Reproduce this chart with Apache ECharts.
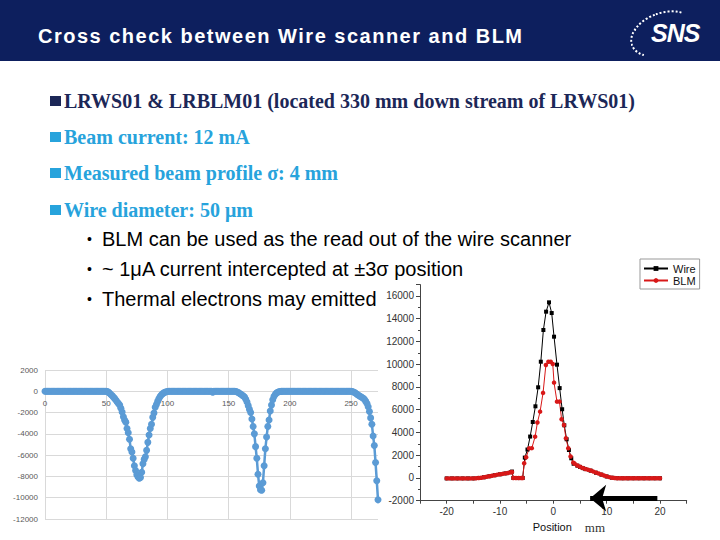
<!DOCTYPE html>
<html><head><meta charset="utf-8">
<script src="https://cdn.jsdelivr.net/npm/echarts@6/dist/echarts.min.js"></script>
<style>
html,body{margin:0;padding:0;background:#fff;}
#slide{position:relative;width:720px;height:540px;overflow:hidden;background:#fff;}
#chart{position:absolute;left:0;top:0;width:720px;height:540px;}
.hdr{position:absolute;left:0;top:0;width:720px;height:61px;background:#0d1f5e;}
.title{position:absolute;left:38px;top:26px;font:bold 20px 'Liberation Sans',Arial,sans-serif;line-height:20px;color:#fff;letter-spacing:1.5px;white-space:nowrap;}
.arc{position:absolute;left:629px;top:12px;width:64px;height:40px;border-radius:50%;border:2px dotted #fff;border-right-color:transparent;border-bottom-color:transparent;transform:rotate(-20deg);}
.sns{position:absolute;left:651px;top:21px;font:italic bold 25px 'Liberation Sans',Arial,sans-serif;line-height:25px;color:#fff;letter-spacing:-1px;}
.sq{position:absolute;left:50px;width:11px;height:10px;}
.b1{position:absolute;left:64px;font:bold 20px 'Liberation Serif','Times New Roman',serif;line-height:20px;white-space:nowrap;}
.dot{position:absolute;left:87px;font:14px 'Liberation Sans',Arial,sans-serif;line-height:20px;color:#000;}
.b2{position:absolute;left:102px;font:20px 'Liberation Sans',Arial,sans-serif;line-height:20px;white-space:nowrap;color:#000;}
</style></head>
<body>
<div id="slide">
  <div id="chart"></div>
  <div class="hdr"></div>
  <div class="title">Cross check between Wire scanner and BLM</div>
  <div class="arc"></div>
  <div class="sns">SNS</div>

  <div class="sq" style="top:96px;background:#1c2757"></div>
  <div class="b1" style="top:91px;color:#1c2757">LRWS01 &amp; LRBLM01 (located 330 mm down stream of LRWS01)</div>
  <div class="sq" style="top:132px;background:#27a3dc"></div>
  <div class="b1" style="top:127px;color:#27a3dc">Beam current: 12 mA</div>
  <div class="sq" style="top:168px;background:#27a3dc"></div>
  <div class="b1" style="top:163px;color:#27a3dc">Measured beam profile σ: 4 mm</div>
  <div class="sq" style="top:205px;background:#27a3dc"></div>
  <div class="b1" style="top:200px;color:#27a3dc">Wire diameter: 50 μm</div>

  <div class="dot" style="top:229px">•</div>
  <div class="b2" style="top:229px">BLM can be used as the read out of the wire scanner</div>
  <div class="dot" style="top:259px">•</div>
  <div class="b2" style="top:259px">~ 1μA current intercepted at ±3σ position</div>
  <div class="dot" style="top:289px">•</div>
  <div class="b2" style="top:289px">Thermal electrons may emitted</div>
</div>
<script>
// ---- Left chart: raw wire scanner signal vs sample index ----
const leftY = [
  0,0,0,0,0,0,0,0,0,0,
  0,0,0,0,0,0,0,0,0,0,
  0,0,0,0,0,0,0,0,0,0,
  0,0,0,0,0,0,0,0,0,0,
  0,0,0,0,0,0,0,0,0,0,
  0,-30,-100,-200,-320,-430,-560,-690,-850,-1000,
  -1150,-1300,-1600,-1950,-2400,-2700,-2900,-3500,-3900,-4500,
  -5400,-5700,-6300,-7000,-7450,-7850,-8050,-8170,-8100,-7600,
  -6800,-6400,-6150,-5550,-4800,-4100,-3500,-3100,-2450,-2050,
  -1500,-1250,-950,-700,-500,-350,-240,-150,-90,-50,
  -20,0,0,0,0,0,0,0,0,0,
  0,0,0,0,0,0,0,0,0,0,
  0,0,0,0,0,0,0,0,0,0,
  0,0,0,0,0,0,0,-80,0,0,
  0,0,0,0,0,0,0,0,0,0,
  0,0,0,0,0,0,-20,-60,-120,-200,
  -280,-360,-440,-530,-750,-1000,-1350,-1700,-2000,-2600,
  -3300,-4000,-5200,-6300,-7800,-8900,-9250,-9300,-8600,-7000,
  -5400,-4300,-3300,-2700,-1850,-1300,-800,-500,-300,-160,
  -90,-50,-25,-10,0,0,0,0,0,0,
  0,0,0,0,0,0,0,0,0,0,
  0,0,0,0,0,0,0,0,0,0,
  0,0,0,0,0,0,0,0,0,0,
  0,0,0,0,0,0,0,0,0,0,
  0,0,0,0,0,0,0,0,0,0,
  0,-20,-60,-120,-200,-290,-380,-450,-520,-580,
  -650,-780,-950,-1150,-1450,-1900,-2500,-3100,-4200,-5100,
  -6700,-8400,-10200
];
const leftXTicks = { min: 0, max: 272, interval: 50 };
const leftYTicks = { min: -12000, max: 2000, interval: 2000 };

// ---- Right chart: profile vs position (mm) ----
const wireX = [-20,-19,-18,-17,-16,-15,-14,-13,-12,-11,-10,-9,-8,-7.75,-7.5,-6.5,-5.75,
  -5.35,-4.85,-4.35,-3.86,-3.36,-2.85,-2.35,-1.87,-1.36,-0.81,-0.31,0.13,0.68,1.18,1.65,2.05,2.49,2.92,3.36,3.8,
  4.5,5,5.5,6,7,8,9,10,11,12,13,14,15,16,17,18,19,20];
const wireY = [-40,-40,-40,-40,-40,-40,0,60,150,240,320,400,500,560,0,-10,0,
  1790,2500,3640,4920,6300,7970,10220,13010,14620,15440,14500,12420,9960,7900,6040,4630,3400,2460,1730,1250,
  1080,970,870,780,640,460,290,130,20,-20,-30,-30,-30,-30,-30,-30,-30,-30];
const blmX = [-20,-19.5,-19,-18.5,-18,-17.5,-17,-16.5,-16,-15.5,-15,-14.5,-14,-13.5,-13,-12.5,-12,-11.5,-11,-10.5,-10,-9.5,-9,-8.5,-8,-7.75,-7.5,-7,-6.5,-6,-5.75,
  -5.47,-5.1,-4.54,-4.04,-3.42,-2.99,-2.49,-1.93,-1.4,-0.93,-0.49,-0.11,0.13,0.68,1.15,1.55,1.99,2.36,2.8,3.23,3.73,
  4,4.5,5,5.5,6,6.5,7,7.5,8,8.5,9,9.5,10,10.5,11,11.5,12,12.5,13,13.5,14,14.5,15,15.5,16,16.5,17,17.5,18,18.5,19,19.5,20];
const blmY = [-40,-40,-40,-40,-40,-40,-40,-40,-40,-40,-40,-20,0,20,60,100,150,200,240,290,320,360,400,440,500,520,0,-10,-10,-10,0,
  1290,1820,2600,2620,3630,4870,5830,7480,9930,10220,10220,10020,8380,6710,6710,5160,4660,3490,2610,1880,1350,
  1250,1100,980,880,790,720,650,560,470,390,300,220,140,70,20,0,-20,-30,-30,-30,-30,-30,-30,-30,-30,-30,-30,-30,-30,-30,-30,-30,-30];
const rightXTicks = { min: -25, max: 25, interval: 5 };
const rightYTicks = { min: -2000, max: 17000, interval: 2000 };
const legendNames = ['Wire', 'BLM'];
const arrowFrom = [19.5, -1780];
const arrowTo = [6.9, -1780];

const zip = (xs, ys) => xs.map((x, i) => [x, ys[i]]);
const leftData = leftY.map((v, i) => [i, v]);

const chart = echarts.init(document.getElementById('chart'), null, { renderer: 'svg' });
const sans = "'Liberation Sans', Arial, sans-serif";
chart.setOption({
  animation: false,
  backgroundColor: 'transparent',
  textStyle: { fontFamily: sans },
  grid: [
    { left: 45, top: 370, width: 333, height: 149, outerBoundsMode: 'none', containLabel: false },
    { left: 420, top: 284.6, width: 266.7, height: 216.1, outerBoundsMode: 'none', containLabel: false },
    // label strip for the left chart: spans leftY 0..2000 so its bottom edge sits on the zero line
    { left: 45, top: 370, width: 333, height: 21.3, outerBoundsMode: 'none', containLabel: false }
  ],
  legend: {
    data: legendNames,
    orient: 'vertical',
    left: 640, top: 259,
    itemWidth: 24, itemHeight: 6, itemGap: 1,
    padding: [4, 4, 3, 3],
    borderColor: '#999', borderWidth: 1,
    textStyle: { fontSize: 11, color: '#111', lineHeight: 11, fontFamily: sans },
    selectedMode: false
  },
  xAxis: [
    {
      gridIndex: 0, type: 'value', min: leftXTicks.min, max: leftXTicks.max, interval: leftXTicks.interval,
      axisLine: { show: false },
      axisTick: { show: false },
      axisLabel: { show: false },
      splitLine: { show: true, showMaxLine: false, lineStyle: { color: '#d9d9d9', width: 1 } }
    },
    {
      gridIndex: 1, type: 'value', min: rightXTicks.min, max: rightXTicks.max, interval: rightXTicks.interval,
      axisLine: { show: true, onZero: false, lineStyle: { color: '#444', width: 1 } },
      axisTick: { show: true, inside: false, length: 3, lineStyle: { color: '#444' } },
      axisLabel: { fontSize: 10, color: '#333', margin: 6, fontFamily: sans,
        formatter: v => (v % 10 === 0 && Math.abs(v) <= 20) ? String(v) : '' },
      splitLine: { show: false },
      name: '{p|Position}{s|}{m|mm}', nameLocation: 'middle', nameGap: 20,
      nameTextStyle: {
        padding: [0, 0, 0, 31],
        rich: {
          p: { fontSize: 11, color: '#111', fontFamily: sans },
          s: { width: 13 },
          m: { fontSize: 13, color: '#333', fontFamily: "'Liberation Serif', 'Times New Roman', serif" }
        }
      }
    },
    {
      gridIndex: 2, type: 'value', position: 'bottom', min: leftXTicks.min, max: leftXTicks.max, interval: leftXTicks.interval,
      axisLine: { show: false },
      axisTick: { show: false },
      axisLabel: { fontSize: 8, color: '#595959', margin: 8, showMaxLabel: false, fontFamily: sans },
      splitLine: { show: false }
    }
  ],
  yAxis: [
    {
      gridIndex: 0, type: 'value', min: leftYTicks.min, max: leftYTicks.max, interval: leftYTicks.interval,
      axisLine: { show: false },
      axisTick: { show: false },
      axisLabel: { fontSize: 8, color: '#595959', margin: 7, fontFamily: sans, formatter: v => String(v) },
      splitLine: { show: true, lineStyle: { color: '#d9d9d9', width: 1 } }
    },
    {
      gridIndex: 1, type: 'value', min: rightYTicks.min, max: rightYTicks.max, interval: rightYTicks.interval,
      axisLine: { show: true, onZero: false, lineStyle: { color: '#444', width: 1 } },
      axisTick: { show: true, inside: false, length: 4, lineStyle: { color: '#444' } },
      minorTick: { show: true, splitNumber: 2, length: 2, lineStyle: { color: '#444' } },
      axisLabel: { fontSize: 10, color: '#333', margin: 6, showMaxLabel: false, fontFamily: sans, formatter: v => String(v) },
      splitLine: { show: false }
    },
    {
      gridIndex: 2, type: 'value', min: 0, max: leftYTicks.max, show: false
    }
  ],
  series: [
    {
      name: 'scan', type: 'line', xAxisIndex: 0, yAxisIndex: 0, data: leftData,
      showAllSymbol: true, symbol: 'circle', symbolSize: 7,
      itemStyle: { color: '#5b9bd5' }, lineStyle: { color: '#5b9bd5', width: 2.5 },
      silent: true
    },
    {
      name: 'Wire', type: 'line', xAxisIndex: 1, yAxisIndex: 1, data: zip(wireX, wireY),
      showAllSymbol: true, symbol: 'rect', symbolSize: 4,
      itemStyle: { color: '#000' }, lineStyle: { color: '#000', width: 1 },
      silent: true,
      markLine: {
        silent: true, animation: false,
        symbol: ['none', 'arrow'], symbolSize: [20, 16],
        label: { show: false },
        lineStyle: { color: '#000', width: 5, type: 'solid' },
        data: [[{ coord: arrowFrom }, { coord: arrowTo }]]
      }
    },
    {
      name: 'BLM', type: 'line', xAxisIndex: 1, yAxisIndex: 1, data: zip(blmX, blmY),
      showAllSymbol: true, symbol: 'circle', symbolSize: 4.5,
      itemStyle: { color: '#d81818' }, lineStyle: { color: '#d81818', width: 1 },
      silent: true
    }
  ]
});
</script>
</body></html>
